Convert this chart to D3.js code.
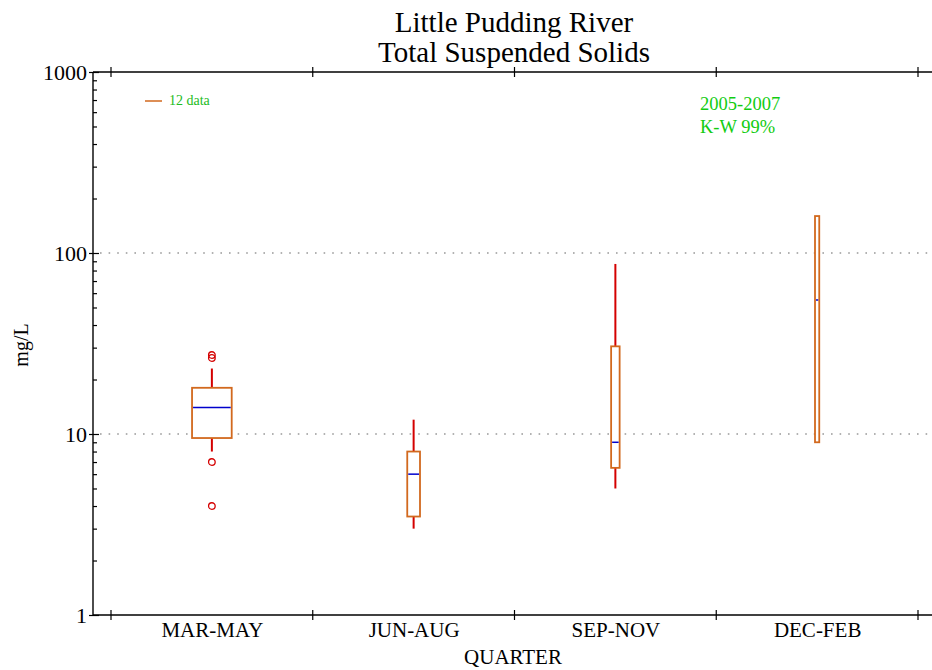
<!DOCTYPE html>
<html>
<head>
<meta charset="utf-8">
<script src="https://cdn.jsdelivr.net/npm/d3@7"></script>
<style>
  body { margin: 0; background: #fff; }
  svg text { font-family: "Liberation Serif", "DejaVu Serif", serif; }
</style>
</head>
<body>
<div id="chart"></div>
<script>
// quarters and box statistics (mg/L)
const quarters = ["MAR-MAY", "JUN-AUG", "SEP-NOV", "DEC-FEB"];
const sampleCount = [28, 9, 6, 3];
const whiskerLow = [8, 3, 5, 9];
const q1 = [9.5, 3.5, 6.5, 9];
const median = [14, 6, 9, 55];
const q3 = [18, 8, 30.5, 160];
const whiskerHigh = [23, 12, 87, 160];
const outliers = [[27.3, 26.3, 7, 4], [], [], []];

const yTicks = [1, 10, 100, 1000];
const gridValues = [10, 100];
const legendCount = 12;

const W = 932, H = 670;
const plot = { left: 93, right: 932, top: 72, bottom: 615 };

const svg = d3.select("#chart").append("svg")
    .attr("width", W)
    .attr("height", H);

// scales
const y = d3.scaleLog().domain([1, 1000]).range([plot.bottom, plot.top]);
const x = d3.scalePoint().domain(quarters).range([111, 918]).padding(0.5);
const xEdge = d3.scaleLinear().domain([0, quarters.length]).range([111, 918]);
const boxWidth = d3.scaleLinear().domain([0, legendCount]).range([0, 17]);

// gridlines (dotted)
svg.append("g").selectAll("line")
    .data(gridValues)
    .join("line")
    .attr("x1", plot.left + 7)
    .attr("x2", plot.right)
    .attr("y1", d => y(d))
    .attr("y2", d => y(d))
    .attr("stroke", "#999")
    .attr("stroke-width", 1.6)
    .attr("stroke-dasharray", "1.6,7");

// frame lines: left, top, bottom
const frame = svg.append("g").attr("stroke", "#000").attr("stroke-width", 1.4);
frame.append("line").attr("x1", plot.left).attr("x2", plot.left).attr("y1", plot.top).attr("y2", plot.bottom);
frame.append("line").attr("x1", plot.left).attr("x2", plot.right).attr("y1", plot.top).attr("y2", plot.top);
frame.append("line").attr("x1", plot.left).attr("x2", plot.right).attr("y1", plot.bottom).attr("y2", plot.bottom);

// left axis: labels and outer major ticks
const leftAxis = svg.append("g")
    .attr("transform", `translate(${plot.left},0)`)
    .call(d3.axisLeft(y).tickValues(yTicks).tickFormat(d3.format("d")).tickSize(4).tickPadding(2));
leftAxis.select(".domain").remove();
leftAxis.selectAll("text").attr("font-size", 22).attr("fill", "#000")
    .attr("font-family", "Liberation Serif, serif");

// inner ticks: majors and log minors
const minorTicks = [];
[1, 10, 100].forEach(base => {
    for (let k = 2; k <= 9; k++) minorTicks.push(base * k);
});
const innerMajor = svg.append("g")
    .attr("transform", `translate(${plot.left},0)`)
    .call(d3.axisRight(y).tickValues(yTicks).tickFormat("").tickSize(6));
innerMajor.select(".domain").remove();
const innerMinor = svg.append("g")
    .attr("transform", `translate(${plot.left},0)`)
    .call(d3.axisRight(y).tickValues(minorTicks).tickFormat("").tickSize(4));
innerMinor.select(".domain").remove();
svg.selectAll(".tick line").attr("stroke", "#000").attr("stroke-width", 1.2);

// top and bottom boundary ticks (crossing)
const edges = d3.range(quarters.length + 1);
[plot.top, plot.bottom].forEach(yy => {
    svg.append("g").selectAll("line")
        .data(edges)
        .join("line")
        .attr("x1", d => xEdge(d))
        .attr("x2", d => xEdge(d))
        .attr("y1", yy - 5)
        .attr("y2", yy + 5)
        .attr("stroke", "#000")
        .attr("stroke-width", 1.2);
});

// category labels
const bottomAxis = svg.append("g")
    .attr("transform", `translate(0,${plot.bottom})`)
    .call(d3.axisBottom(x).tickSize(0).tickPadding(7));
bottomAxis.select(".domain").remove();
bottomAxis.selectAll("text").attr("font-size", 21).attr("fill", "#000")
    .attr("font-family", "Liberation Serif, serif");

// boxes
const boxData = quarters.map((q, i) => ({
    q, n: sampleCount[i], lo: whiskerLow[i], q1: q1[i], med: median[i],
    q3: q3[i], hi: whiskerHigh[i], out: outliers[i]
}));

const boxes = svg.append("g").selectAll("g")
    .data(boxData)
    .join("g")
    .attr("transform", d => `translate(${x(d.q)},0)`);

// whiskers
boxes.append("line")
    .attr("y1", d => y(d.q3)).attr("y2", d => y(d.hi))
    .attr("stroke", "#d40000").attr("stroke-width", 2);
boxes.append("line")
    .attr("y1", d => y(d.q1)).attr("y2", d => y(d.lo))
    .attr("stroke", "#d40000").attr("stroke-width", 2);

boxes.append("rect")
    .attr("x", d => -boxWidth(d.n) / 2)
    .attr("width", d => boxWidth(d.n))
    .attr("y", d => y(d.q3))
    .attr("height", d => y(d.q1) - y(d.q3))
    .attr("fill", "#fff")
    .attr("stroke", "#d2691e")
    .attr("stroke-width", 1.8);

boxes.append("line")
    .attr("x1", d => -boxWidth(d.n) / 2 + 1)
    .attr("x2", d => boxWidth(d.n) / 2 - 1)
    .attr("y1", d => y(d.med))
    .attr("y2", d => y(d.med))
    .attr("stroke", "#0000cc")
    .attr("stroke-width", 1.5);

boxes.selectAll("circle")
    .data(d => d.out)
    .join("circle")
    .attr("cx", 0)
    .attr("cy", d => y(d))
    .attr("r", 3.3)
    .attr("fill", "none")
    .attr("stroke", "#d40000")
    .attr("stroke-width", 1.3);

// legend
svg.append("line")
    .attr("x1", 145).attr("x2", 145 + boxWidth(legendCount))
    .attr("y1", 101).attr("y2", 101)
    .attr("stroke", "#d2691e").attr("stroke-width", 1.5);
svg.append("text")
    .attr("x", 169).attr("y", 105)
    .attr("font-size", 14)
    .attr("fill", "#22bb22")
    .text(`${legendCount} data`);

svg.append("text")
    .attr("x", 700).attr("y", 110)
    .attr("font-size", 18.5)
    .attr("fill", "#11cc11")
    .text("2005-2007");
svg.append("text")
    .attr("x", 700).attr("y", 133)
    .attr("font-size", 18.5)
    .attr("fill", "#11cc11")
    .text("K-W 99%");

// titles
svg.append("text")
    .attr("x", 514).attr("y", 32)
    .attr("text-anchor", "middle")
    .attr("font-size", 29)
    .text("Little Pudding River");
svg.append("text")
    .attr("x", 514).attr("y", 62)
    .attr("text-anchor", "middle")
    .attr("font-size", 29)
    .text("Total Suspended Solids");

svg.append("text")
    .attr("x", 513).attr("y", 664)
    .attr("text-anchor", "middle")
    .attr("font-size", 21)
    .text("QUARTER");

svg.append("text")
    .attr("transform", "translate(28,345) rotate(-90)")
    .attr("text-anchor", "middle")
    .attr("font-size", 20)
    .text("mg/L");
</script>
</body>
</html>
